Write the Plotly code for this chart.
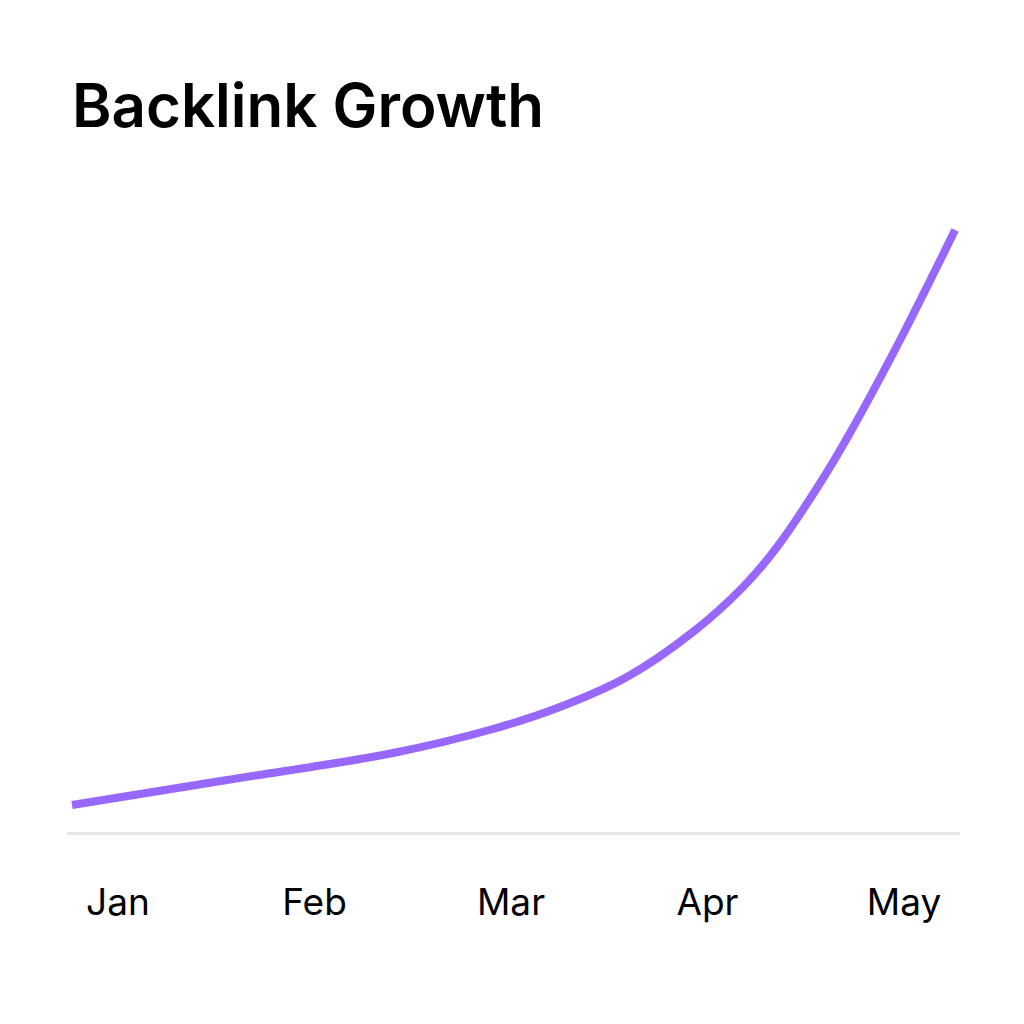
import plotly.graph_objects as go

months = ["Jan", "Feb", "Mar", "Apr", "May"]
month_pos = [0, 1, 2, 3, 4]

# Curve samples (x in month units, y = backlinks)
x_vals = [-0.234, 0.555, 1.40, 1.908, 2.249, 2.59, 2.926, 3.181, 3.354, 3.583, 3.725, 3.98, 4.26]
y_vals = [27, 52, 79, 103, 125, 155, 200, 245, 285, 352, 399, 492, 602]

fig = go.Figure()
fig.add_trace(go.Scatter(
    x=x_vals, y=y_vals, mode="lines",
    line=dict(color="#9867fb", width=8, shape="spline", smoothing=1.0),
    hoverinfo="skip", showlegend=False,
))

fig.update_layout(
    width=1024, height=1024,
    paper_bgcolor="white", plot_bgcolor="white",
    margin=dict(l=59, r=72, t=192, b=200),
    title=dict(
        text="Backlink Growth",
        x=64 / 1024, xanchor="left", xref="container",
        y=1 - 98 / 1024, yanchor="middle", yref="container",
        font=dict(family="Inter", size=60, color="#000000", weight=600),
    ),
    font=dict(family="Inter", color="#000000"),
    xaxis=dict(
        range=[-0.2595, 4.285],
        tickvals=month_pos, ticktext=months,
        showgrid=False, zeroline=False,
        showline=True, linecolor="#e6e6e6", linewidth=3,
        ticks="outside", ticklen=36, tickcolor="rgba(0,0,0,0)",
        tickfont=dict(family="Inter", size=37, color="#000000"),
    ),
    yaxis=dict(
        range=[0, 632], visible=False, showgrid=False, zeroline=False,
    ),
)

fig.write_html("out.html")
